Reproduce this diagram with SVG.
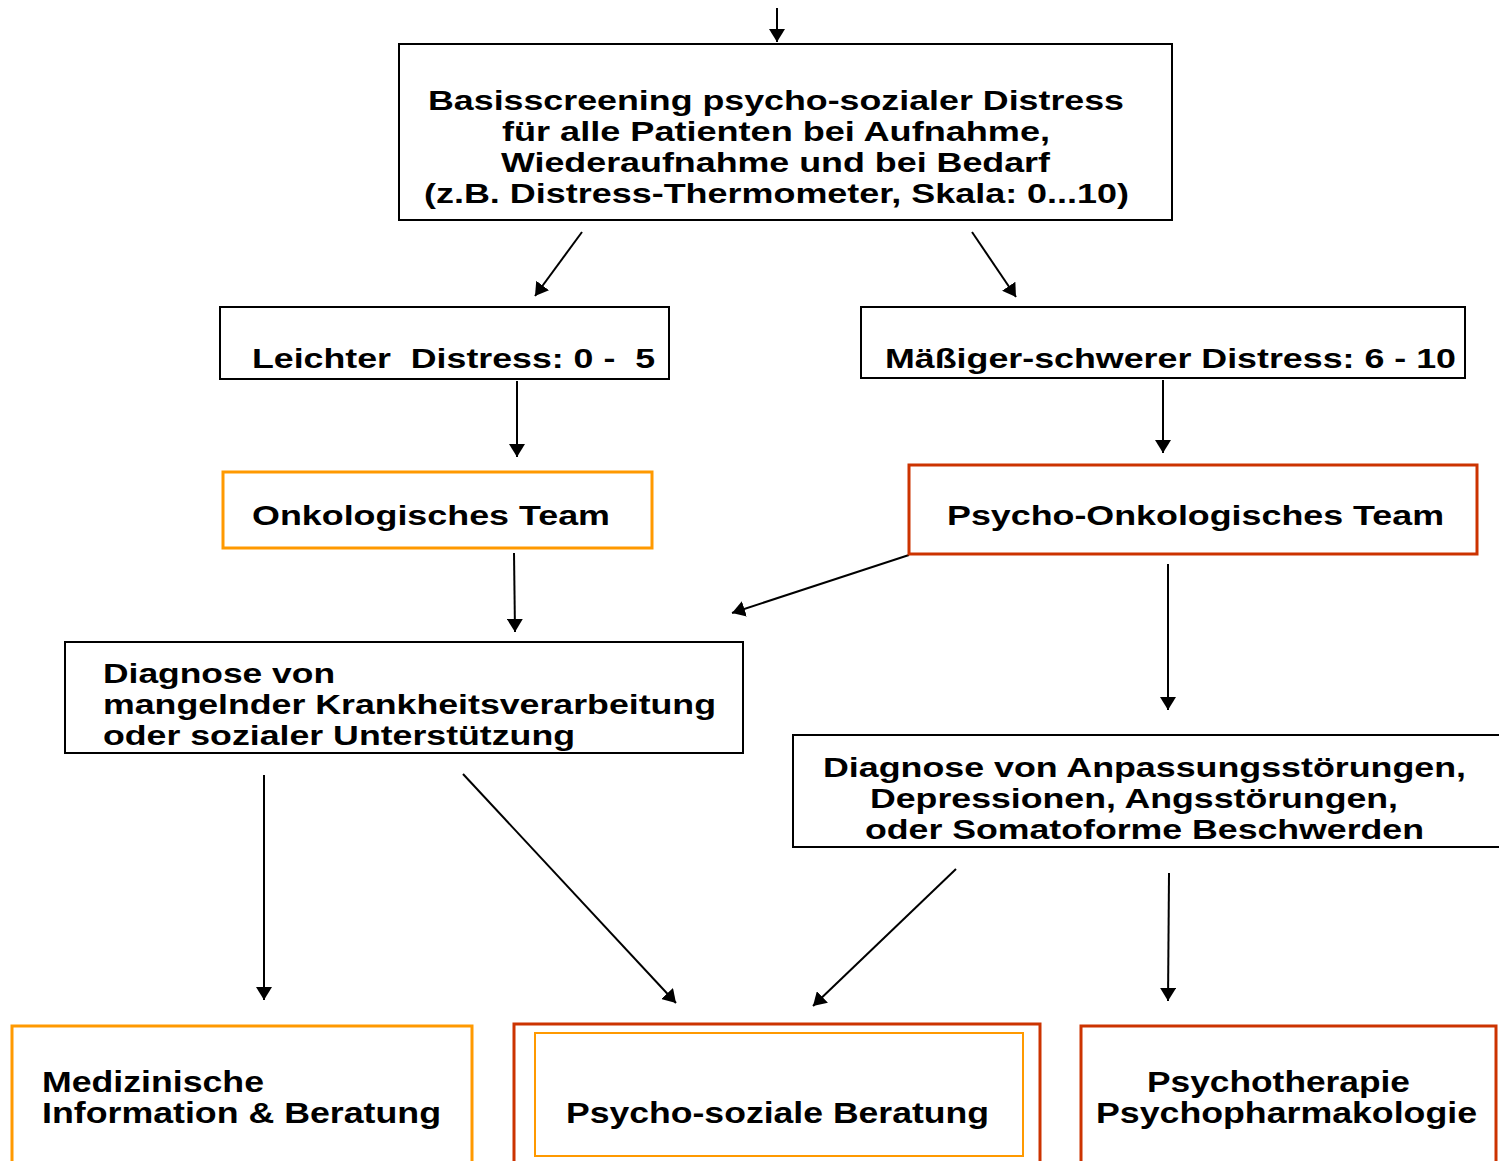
<svg xmlns="http://www.w3.org/2000/svg" width="1499" height="1161" viewBox="0 0 1499 1161">
<defs>
<style>
.t{font-family:"Liberation Sans",Arial,sans-serif;font-weight:bold;font-size:28px;fill:#000}
.b{font-family:"Liberation Sans",Arial,sans-serif;font-weight:bold;font-size:30px;fill:#000}
.k{fill:#fff;stroke:#000;stroke-width:2}
.o{fill:#fff;stroke:#FF9900;stroke-width:3}
.r{fill:#fff;stroke:#CC3300;stroke-width:3}
.c line{stroke:#000;stroke-width:2}
</style>
<marker id="ah" viewBox="0 0 13 16" refX="13" refY="8" markerWidth="13" markerHeight="16" markerUnits="userSpaceOnUse" orient="auto">
<path d="M0,0 L13,8 L0,16 Z" fill="#000"/>
</marker>
</defs>
<rect width="1499" height="1161" fill="#fff"/>
<g class="c">
<line x1="777" y1="8" x2="777" y2="42" marker-end="url(#ah)"/>
<line x1="582" y1="232" x2="535" y2="296" marker-end="url(#ah)"/>
<line x1="972" y1="232" x2="1016" y2="297" marker-end="url(#ah)"/>
<line x1="517" y1="381" x2="517" y2="457" marker-end="url(#ah)"/>
<line x1="1163" y1="380" x2="1163" y2="453" marker-end="url(#ah)"/>
<line x1="514" y1="553" x2="515" y2="632" marker-end="url(#ah)"/>
<line x1="909" y1="555" x2="732" y2="613" marker-end="url(#ah)"/>
<line x1="1168" y1="564" x2="1168" y2="710" marker-end="url(#ah)"/>
<line x1="264" y1="775" x2="264" y2="1000" marker-end="url(#ah)"/>
<line x1="463" y1="774" x2="676" y2="1003" marker-end="url(#ah)"/>
<line x1="956" y1="869" x2="813" y2="1006" marker-end="url(#ah)"/>
<line x1="1169" y1="873" x2="1168" y2="1001" marker-end="url(#ah)"/>
</g>
<g id="n-basis">
<rect class="k" x="399" y="44" width="773" height="176"/>
<text class="t" x="428" y="110" textLength="696" lengthAdjust="spacingAndGlyphs">Basisscreening psycho-sozialer Distress</text>
<text class="t" x="502" y="141" textLength="548" lengthAdjust="spacingAndGlyphs">für alle Patienten bei Aufnahme,</text>
<text class="t" x="501" y="172" textLength="549" lengthAdjust="spacingAndGlyphs">Wiederaufnahme und bei Bedarf</text>
<text class="t" x="424" y="203" textLength="705" lengthAdjust="spacingAndGlyphs">(z.B. Distress-Thermometer, Skala: 0...10)</text>
</g>
<g id="n-leicht">
<rect class="k" x="220" y="307" width="449" height="72"/>
<text class="t" x="252" y="368" textLength="403" lengthAdjust="spacingAndGlyphs" xml:space="preserve">Leichter  Distress: 0 -  5</text>
</g>
<g id="n-schwer">
<rect class="k" x="861" y="307" width="604" height="71"/>
<text class="t" x="885" y="368" textLength="571" lengthAdjust="spacingAndGlyphs">Mäßiger-schwerer Distress: 6 - 10</text>
</g>
<g id="n-onko">
<rect class="o" x="223" y="472" width="429" height="76"/>
<text class="t" x="252" y="525" textLength="358" lengthAdjust="spacingAndGlyphs">Onkologisches Team</text>
</g>
<g id="n-psychoonko">
<rect class="r" x="909" y="465" width="568" height="89"/>
<text class="t" x="947" y="525" textLength="497" lengthAdjust="spacingAndGlyphs">Psycho-Onkologisches Team</text>
</g>
<g id="n-diag1">
<rect class="k" x="65" y="642" width="678" height="111"/>
<text class="t" x="103" y="683" textLength="232" lengthAdjust="spacingAndGlyphs">Diagnose von</text>
<text class="t" x="103" y="714" textLength="613" lengthAdjust="spacingAndGlyphs">mangelnder Krankheitsverarbeitung</text>
<text class="t" x="103" y="745" textLength="472" lengthAdjust="spacingAndGlyphs">oder sozialer Unterstützung</text>
</g>
<g id="n-diag2">
<rect class="k" x="793" y="735" width="710" height="112"/>
<text class="t" x="823" y="777" textLength="643" lengthAdjust="spacingAndGlyphs">Diagnose von Anpassungsstörungen,</text>
<text class="t" x="870" y="808" textLength="528" lengthAdjust="spacingAndGlyphs">Depressionen, Angsstörungen,</text>
<text class="t" x="865" y="839" textLength="559" lengthAdjust="spacingAndGlyphs">oder Somatoforme Beschwerden</text>
</g>
<g id="n-med">
<rect class="o" x="12" y="1026" width="460" height="150"/>
<text class="b" x="42" y="1092" textLength="222" lengthAdjust="spacingAndGlyphs">Medizinische</text>
<text class="b" x="42" y="1123" textLength="399" lengthAdjust="spacingAndGlyphs">Information &amp; Beratung</text>
</g>
<g id="n-psychosozial">
<rect class="r" x="514" y="1024" width="526" height="152"/>
<rect class="o" x="535" y="1033" width="488" height="123" style="stroke-width:2"/>
<text class="b" x="566" y="1123" textLength="423" lengthAdjust="spacingAndGlyphs">Psycho-soziale Beratung</text>
</g>
<g id="n-psychotherapie">
<rect class="r" x="1081" y="1026" width="415" height="150"/>
<text class="b" x="1147" y="1092" textLength="263" lengthAdjust="spacingAndGlyphs">Psychotherapie</text>
<text class="b" x="1096" y="1123" textLength="381" lengthAdjust="spacingAndGlyphs">Psychopharmakologie</text>
</g>
</svg>
